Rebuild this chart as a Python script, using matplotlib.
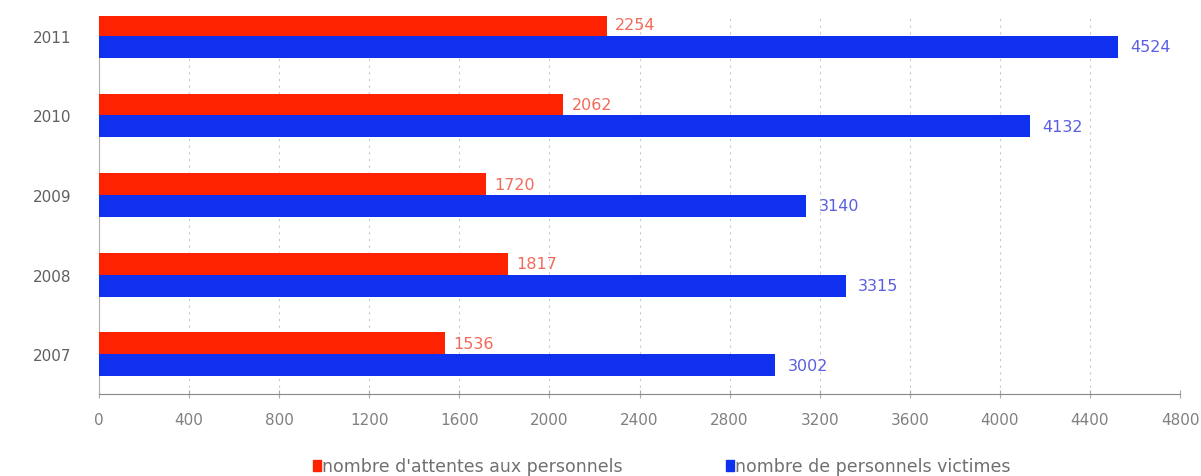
import numpy as np
import matplotlib
matplotlib.use("Agg")
import matplotlib.pyplot as plt

years = ['2007', '2008', '2009', '2010', '2011']
atteintes = [1536, 1817, 1720, 2062, 2254]
victimes = [3002, 3315, 3140, 4132, 4524]
xticks = list(range(0, 4801, 400))

red = '#ff2200'
blue = '#1030f0'
red_txt = '#f26a5a'
blue_txt = '#5a5ee0'
gray = '#707070'

fig = plt.figure(figsize=(12.01, 4.77), dpi=100)
ax = fig.add_axes([99 / 1201, 82 / 477, 1081 / 1201, 378 / 477])

y = np.arange(len(years))
h = 0.275
ax.barh(y + h / 2, atteintes, height=h, color=red, zorder=3)
ax.barh(y - h / 2, victimes, height=h, color=blue, zorder=3)

for yi, v in zip(y, atteintes):
    ax.annotate(str(v), (v, yi + h / 2), xytext=(6, 0), textcoords='offset points',
                va='center', ha='left', fontsize=11.5, color=red_txt)
for yi, v in zip(y, victimes):
    ax.annotate(str(v), (v, yi - h / 2), xytext=(9, 0), textcoords='offset points',
                va='center', ha='left', fontsize=11.5, color=blue_txt)

ax.set_xlim(0, 4800)
ax.set_ylim(-0.5, 4.25)
ax.set_xticks(xticks)
ax.set_yticks(y)
ax.set_yticklabels(years)
ax.tick_params(axis='x', direction='inout', length=6, color='#aaaaaa',
               labelcolor='#808080', labelsize=11, pad=10)
ax.tick_params(axis='y', length=0, labelcolor='#606060', labelsize=11, pad=20)
ax.grid(axis='x', color='#c8c8c8', linestyle=(0, (2, 4)), linewidth=0.8, zorder=0)

for s in ['top', 'right']:
    ax.spines[s].set_visible(False)
ax.spines['left'].set_color('#b0b0b0')
ax.spines['bottom'].set_color('#888888')

# legend, drawn as squares + text at the bottom
fig.patches.append(plt.Rectangle((313 / 1201, 5 / 477), 8 / 1201, 11 / 477,
                                 transform=fig.transFigure, color=red))
fig.text(322 / 1201, 10 / 477, "nombre d'attentes aux personnels", fontsize=12.5,
         color=gray, va='center', ha='left')
fig.patches.append(plt.Rectangle((726 / 1201, 5 / 477), 8 / 1201, 11 / 477,
                                 transform=fig.transFigure, color=blue))
fig.text(735 / 1201, 10 / 477, "nombre de personnels victimes", fontsize=12.5,
         color=gray, va='center', ha='left')

fig.savefig('out.png', dpi=100)
